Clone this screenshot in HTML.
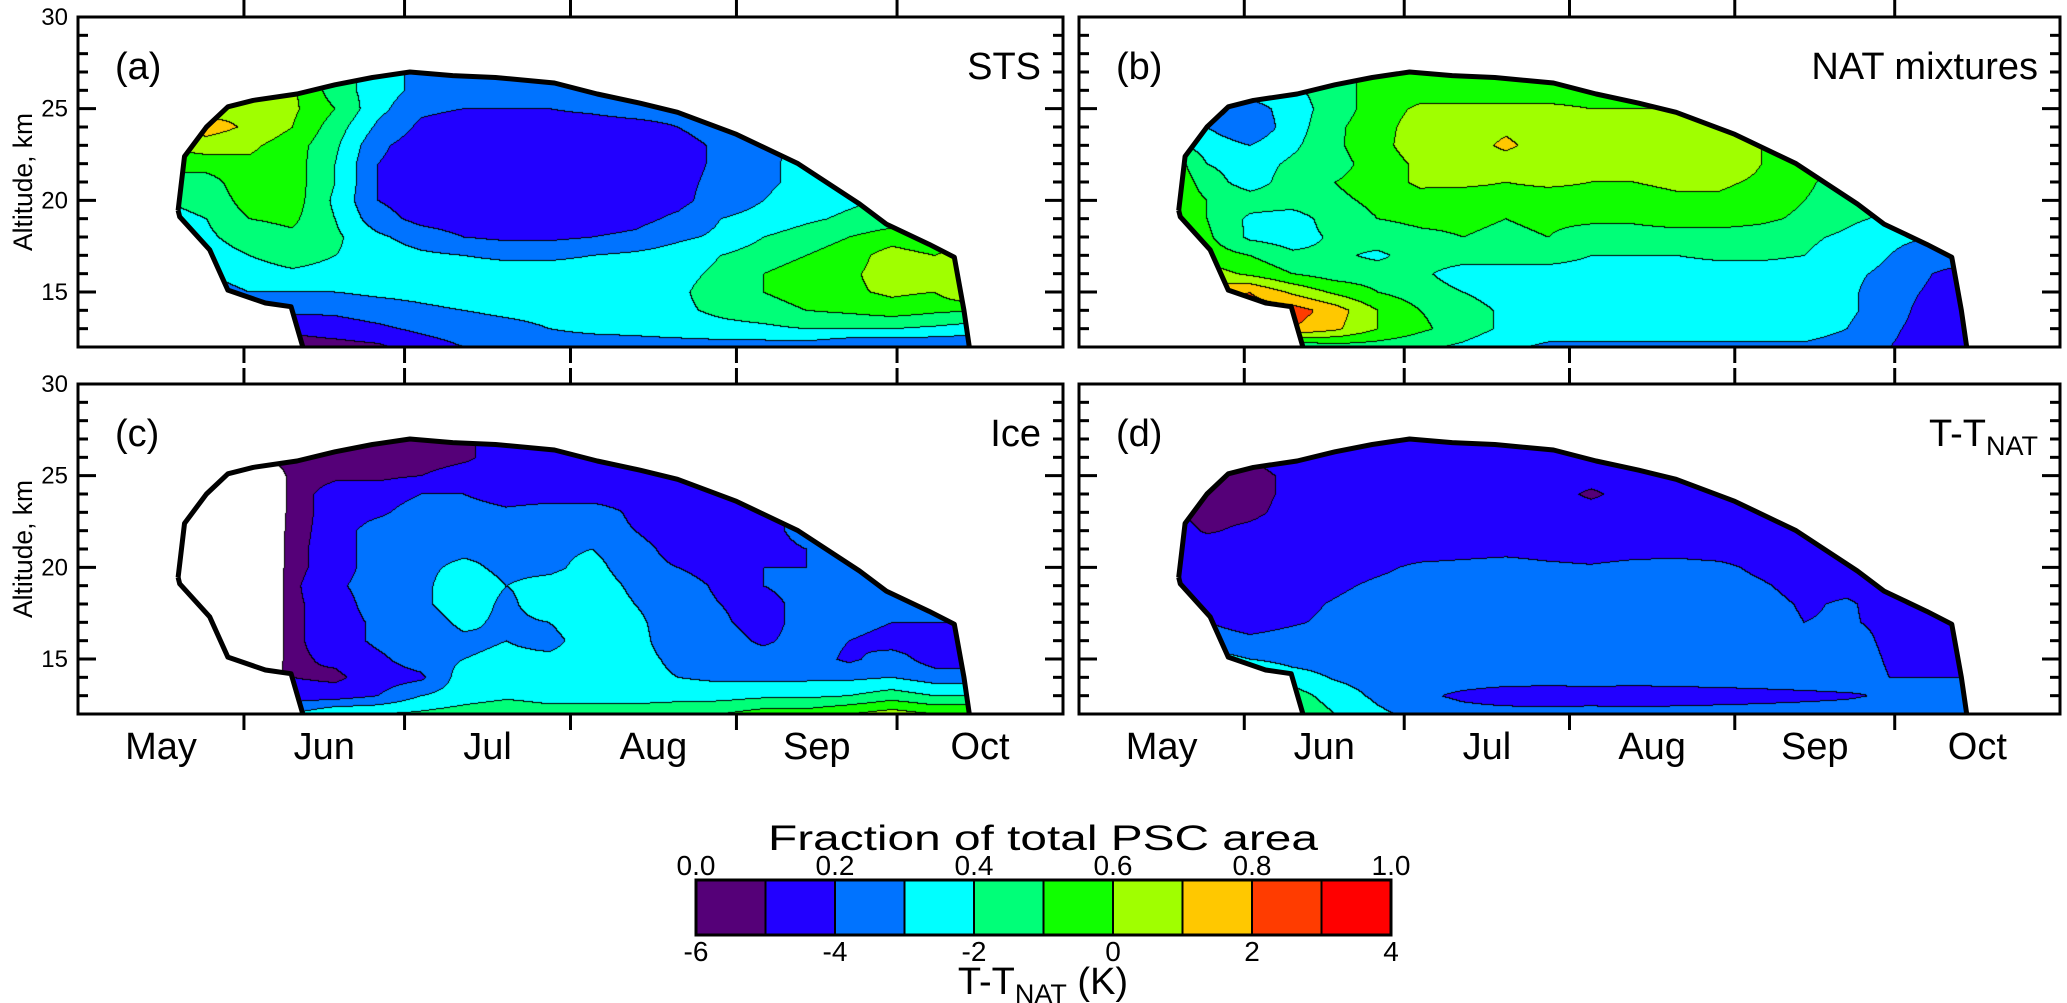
<!DOCTYPE html>
<html><head><meta charset="utf-8">
<style>
html,body{margin:0;padding:0;background:#fff;}
#wrap{position:relative;width:2067px;height:1003px;overflow:hidden;background:#fff;font-family:"Liberation Sans",Arial,sans-serif;}
canvas{position:absolute;}
svg{position:absolute;left:0;top:0;}
</style></head>
<body>
<div id="wrap">
<canvas id="cv-a"></canvas>
<canvas id="cv-b"></canvas>
<canvas id="cv-c"></canvas>
<canvas id="cv-d"></canvas>
<svg id="ov" width="2067" height="1003"></svg>
</div>
<script>
const _ = null;
// columns: days since May 1, step 8 (0..184); rows: altitude 27 km down to 12 km
const gridDays = [0,8,16,24,32,40,48,56,64,72,80,88,96,104,112,120,128,136,144,152,160,168,176,184];
const gridAlts = [27,26,25,24,23,22,21,20,19,18,17,16,15,14,13,12];

const stsValues = [
[_,_,_,_,_,_,_,_,_,_,_,_,_,_,_,_,_,_,_,_,_,_,_,_],
[_,_,_,.65,.65,.62,.45,.35,.27,.25,.25,.25,.25,.25,.25,.3,.3,_,_,_,_,_,_,_],
[_,_,_,.65,.68,.62,.5,.33,.22,.2,.2,.2,.22,.25,.25,.28,.3,.3,_,_,_,_,_,_],
[_,_,_,.75,.68,.6,.45,.28,.18,.15,.15,.15,.15,.16,.2,.25,.3,.3,_,_,_,_,_,_],
[_,_,.6,.65,.62,.55,.42,.22,.15,.15,.15,.15,.15,.15,.16,.22,.28,.32,.35,_,_,_,_,_],
[_,_,.55,.55,.58,.55,.4,.2,.15,.15,.15,.15,.15,.15,.16,.22,.28,.33,.35,.4,_,_,_,_],
[_,_,.45,.45,.58,.55,.4,.2,.15,.15,.15,.15,.15,.15,.17,.23,.28,.33,.37,.4,_,_,_,_],
[_,_,.4,.42,.55,.55,.38,.2,.15,.15,.15,.15,.15,.15,.17,.25,.3,.35,.38,.42,.45,_,_,_],
[_,_,.38,.4,.5,.52,.4,.24,.17,.15,.15,.15,.15,.17,.22,.3,.33,.38,.42,.45,.5,_,_,_],
[_,_,.35,.38,.45,.48,.42,.32,.25,.2,.18,.18,.2,.22,.28,.32,.4,.45,.5,.55,.5,.55,_,_],
[_,_,_,.35,.4,.45,.4,.36,.32,.3,.28,.28,.3,.32,.35,.4,.45,.5,.55,.65,.6,.7,_,_],
[_,_,_,.3,.35,.38,.36,.35,.35,.35,.35,.35,.35,.35,.37,.42,.5,.55,.58,.65,.62,.78,_,_],
[_,_,_,.25,.3,.3,.3,.32,.33,.35,.35,.35,.35,.35,.38,.45,.5,.55,.58,.62,.6,.75,_,_],
[_,_,_,_,.22,.22,.22,.25,.28,.3,.32,.33,.35,.35,.38,.42,.45,.5,.52,.55,.52,.5,_,_],
[_,_,_,_,.12,.12,.15,.18,.22,.25,.27,.3,.32,.33,.35,.37,.38,.4,.4,.4,.38,.35,_,_],
[_,_,_,_,.05,.05,.06,.08,.15,.2,.22,.25,.25,.25,.25,.25,.25,.25,.2,.2,.2,.2,_,_]
];
const natValues = [
[_,_,_,_,_,_,_,_,_,_,_,_,_,_,_,_,_,_,_,_,_,_,_,_],
[_,_,_,.35,.35,.38,.45,.55,.55,.55,.55,.55,.55,.55,.55,.55,.55,_,_,_,_,_,_,_],
[_,_,_,.35,.25,.35,.45,.55,.62,.62,.62,.62,.6,.6,.6,.62,.58,.55,_,_,_,_,_,_],
[_,_,.4,.3,.22,.35,.48,.56,.65,.65,.68,.65,.65,.62,.62,.65,.6,.55,_,_,_,_,_,_],
[_,_,.45,.35,.3,.38,.48,.57,.65,.65,.72,.65,.65,.62,.65,.7,.6,.55,.5,_,_,_,_,_],
[_,_,.6,.4,.35,.42,.46,.55,.62,.65,.65,.62,.62,.62,.65,.68,.6,.55,.5,.5,_,_,_,_],
[_,_,.62,.45,.35,.45,.5,.55,.62,.62,.6,.62,.6,.6,.62,.62,.58,.52,.45,.45,_,_,_,_],
[_,_,.6,.5,.45,.45,.48,.52,.56,.55,.56,.55,.56,.56,.58,.58,.55,.5,.45,.42,.4,_,_,_],
[_,_,.55,.5,.38,.35,.45,.5,.52,.52,.5,.52,.52,.52,.55,.55,.52,.48,.42,.38,.35,_,_,_],
[_,_,.55,.52,.38,.35,.42,.45,.48,.5,.48,.5,.45,.45,.45,.45,.45,.42,.38,.32,.3,_,_,_],
[_,_,_,.55,.5,.42,.42,.38,.45,.45,.45,.45,.4,.4,.4,.42,.42,.4,.35,.3,.25,_,_,_],
[_,_,_,.65,.58,.5,.45,.45,.42,.35,.35,.35,.35,.35,.35,.35,.35,.35,.32,.28,.2,.15,_,_],
[_,_,_,.75,.8,.68,.58,.5,.45,.4,.35,.35,.35,.35,.35,.35,.35,.35,.32,.25,.18,.15,_,_],
[_,_,_,_,.85,.85,.75,.6,.5,.45,.38,.35,.35,.35,.35,.35,.35,.35,.32,.25,.15,.15,_,_],
[_,_,_,_,.6,.8,.72,.6,.52,.45,.38,.35,.35,.35,.35,.35,.35,.35,.3,.22,.15,.15,_,_],
[_,_,_,_,.4,.4,.45,.45,.42,.38,.32,.28,.28,.28,.28,.28,.28,.28,.25,.2,.15,.15,_,_]
];
const iceValues = [
[_,_,_,_,_,_,_,_,_,_,_,_,_,_,_,_,_,_,_,_,_,_,_,_],
[_,_,_,_,_,.05,.05,.05,.05,.08,.15,.15,.15,.15,_,_,_,_,_,_,_,_,_,_],
[_,_,_,_,-.3,.05,.08,.08,.1,.15,.15,.15,.12,.15,.15,_,_,_,_,_,_,_,_,_],
[_,_,_,-.3,-.3,.05,.15,.15,.2,.2,.15,.15,.15,.15,.15,.15,_,_,_,_,_,_,_,_],
[_,_,-.3,-.3,-.3,.05,.15,.18,.25,.25,.22,.25,.25,.18,.15,.15,.2,_,_,_,_,_,_,_],
[_,_,-.3,-.3,-.3,.06,.15,.25,.25,.25,.25,.25,.25,.2,.12,.15,.18,.22,_,_,_,_,_,_],
[_,_,-.3,-.3,-.3,.07,.15,.25,.27,.28,.28,.28,.3,.25,.15,.15,.18,.2,.25,_,_,_,_,_],
[_,_,-.3,-.3,-.3,.07,.15,.25,.28,.32,.28,.28,.33,.25,.2,.15,.2,.2,.22,.2,_,_,_,_],
[_,_,-.3,-.3,-.3,.08,.18,.25,.28,.35,.3,.33,.35,.28,.25,.18,.2,.25,.22,.25,_,_,_,_],
[_,_,-.3,-.3,-.3,.08,.15,.25,.28,.35,.28,.35,.36,.3,.25,.2,.15,.25,.25,.25,.22,_,_,_],
[_,_,_,-.3,-.3,.08,.15,.22,.25,.32,.28,.3,.36,.32,.25,.22,.15,.25,.25,.2,.2,_,_,_],
[_,_,_,-.3,-.3,.08,.15,.22,.25,.28,.3,.27,.35,.33,.25,.25,.18,.25,.2,.15,.15,.15,_,_],
[_,_,_,-.3,-.3,.08,.12,.18,.25,.3,.32,.32,.35,.33,.28,.25,.25,.25,.18,.25,.15,.15,_,_],
[_,_,_,_,-.3,.1,.08,.15,.18,.35,.36,.35,.36,.33,.3,.28,.28,.28,.28,.3,.25,.25,_,_],
[_,_,_,_,-.3,.15,.15,.2,.3,.35,.38,.36,.36,.36,.36,.36,.38,.38,.4,.45,.4,.4,_,_],
[_,_,_,_,-.3,.3,.4,.4,.42,.45,.48,.45,.45,.45,.48,.5,.55,.55,.6,.65,.6,.6,_,_]
];
const tntValues = [
[_,_,_,_,_,_,_,_,_,_,_,_,_,_,_,_,_,_,_,_,_,_,_,_],
[_,_,_,-5,-5,-4.5,-4.5,-4.5,-4.5,-4.5,-4.5,-4.5,-4.5,-4.5,-4.5,_,_,_,_,_,_,_,_,_],
[_,_,_,-5.3,-5.3,-4.8,-4.5,-4.5,-4.5,-4.5,-4.5,-4.5,-4.5,-4.5,-4.5,-4.5,_,_,_,_,_,_,_,_],
[_,_,-5,-5.4,-5.3,-4.8,-4.5,-4.5,-4.5,-4.5,-4.5,-4.5,-5.2,-4.5,-4.5,-4.5,-4.5,_,_,_,_,_,_,_],
[_,_,-4.8,-5.3,-5.2,-4.7,-4.5,-4.5,-4.5,-4.5,-4.5,-4.5,-4.5,-4.5,-4.5,-4.5,-4.5,-4.5,_,_,_,_,_,_],
[_,_,-4.5,-5.1,-4.8,-4.5,-4.5,-4.5,-4.5,-4.5,-4.5,-4.5,-4.5,-4.5,-4.5,-4.5,-4.5,-4.5,-4.5,_,_,_,_,_],
[_,_,-3.8,-4.5,-4.5,-4.5,-4.5,-4.5,-4.5,-4.4,-4.3,-4.4,-4.5,-4.4,-4.3,-4.4,-4.5,-4.5,-4.5,-4.5,_,_,_,_],
[_,_,-3.8,-4.4,-4.5,-4.5,-4.5,-4.2,-3.8,-3.7,-3.6,-3.8,-3.9,-3.7,-3.7,-3.8,-4.2,-4.5,-4.5,-4.5,_,_,_,_],
[_,_,-4,-4.4,-4.5,-4.5,-4.2,-3.8,-3.6,-3.6,-3.6,-3.6,-3.6,-3.6,-3.6,-3.6,-3.9,-4.3,-4.2,-4.5,-4.5,_,_,_],
[_,_,-4,-4.3,-4.5,-4.3,-3.9,-3.5,-3.5,-3.5,-3.5,-3.5,-3.5,-3.5,-3.5,-3.5,-3.7,-4.1,-3.9,-4.3,-4.4,_,_,_],
[_,_,_,-4,-4.4,-4.1,-3.8,-3.5,-3.5,-3.5,-3.5,-3.5,-3.5,-3.5,-3.5,-3.5,-3.6,-4,-3.9,-4.2,-4.3,_,_,_],
[_,_,_,-3.5,-3.8,-3.6,-3.5,-3.5,-3.5,-3.5,-3.5,-3.5,-3.5,-3.5,-3.5,-3.5,-3.5,-3.7,-3.6,-4.2,-4.3,-4.3,_,_],
[_,_,_,-2.5,-3,-3.4,-3.5,-3.5,-3.5,-3.5,-3.5,-3.5,-3.5,-3.5,-3.5,-3.5,-3.5,-3.5,-3.5,-4.1,-4.2,-4.2,_,_],
[_,_,_,_,-1.5,-2.5,-3.1,-3.4,-3.5,-3.5,-3.5,-3.5,-3.5,-3.5,-3.5,-3.5,-3.5,-3.5,-3.5,-4,-4,-4,_,_],
[_,_,_,_,-1,-1.5,-2.5,-3.2,-3.8,-4.2,-4.5,-4.6,-4.5,-4.6,-4.5,-4.4,-4.3,-4.2,-4.1,-3.9,-3.9,-3.9,_,_],
[_,_,_,_,-.5,-1,-2,-2.8,-3.3,-3.6,-3.6,-3.6,-3.6,-3.6,-3.6,-3.6,-3.6,-3.6,-3.6,-3.5,-3.5,-3.5,_,_]
];
// PSC envelope (day, altitude km): top edge, right edge down to 12 km, then left edge back up
const envDay = [18.7,19.9,24,28,32.7,40.9,48,55,62,70,78,89,97,105,112,123,134.5,146,151,159,163.7,165.5,166.5,42,39.8,35,28,24.6,19];
const envAlt = [19.45,22.4,24,25.1,25.45,25.8,26.3,26.7,27,26.8,26.7,26.4,25.8,25.3,24.8,23.6,22,19.8,18.7,17.6,16.9,14,12,12,14.2,14.4,15.1,17.3,19.1];

const monthNames = ["May","Jun","Jul","Aug","Sep","Oct"];
const monthStart = [0,31,61,92,123,153];
const monthLen = [31,30,31,31,30,31];
const altTicks = [15,20,25,30];
const cbTopLabels = ["0.0","0.2","0.4","0.6","0.8","1.0"];
const cbBottomLabels = ["-6","-4","-2","0","2","4"];
const levelColors = [[85,0,120],[34,0,255],[0,115,255],[0,255,255],[0,255,120],[16,255,0],[160,255,0],[255,200,0],[255,60,0],[255,0,0]];

const DAYS = 184, ALT0 = 12, ALT1 = 30;
const panels = [
 {key:'a', x0:78, y0:17, w:985, h:330, grid:stsValues, vmin:0, step:0.1, label:'(a)', title:'STS', ylab:true, top:true},
 {key:'b', x0:1079, y0:17, w:981, h:330, grid:natValues, vmin:0, step:0.1, label:'(b)', title:'NAT mixtures', ylab:false, top:true},
 {key:'c', x0:78, y0:384, w:985, h:330, grid:iceValues, vmin:0, step:0.1, label:'(c)', title:'Ice', ylab:true, top:false},
 {key:'d', x0:1079, y0:384, w:981, h:330, grid:tntValues, vmin:-6, step:1, label:'(d)', title:'TNAT', ylab:false, top:false}
];

function fillGrid(g){
  const out = g.map(r=>r.slice());
  for(const r of out){
    const idx = []; r.forEach((v,i)=>{ if(v!==null) idx.push(i); });
    if(!idx.length) continue;
    for(let i=0;i<r.length;i++) if(r[i]===null){
      let best=idx[0]; for(const j of idx) if(Math.abs(j-i)<Math.abs(best-i)) best=j;
      r[i]=r[best];
    }
  }
  for(let k=0;k<out.length;k++) if(out[k].every(v=>v===null)){
    for(let d=1;d<out.length;d++){
      const a=out[k+d]||out[k-d];
      if(a && !a.every(v=>v===null)){ out[k]=a.slice(); break; }
    }
  }
  return out;
}

const NS = "http://www.w3.org/2000/svg";
const ov = document.getElementById('ov');
function el(tag, attrs, parent){
  const e = document.createElementNS(NS, tag);
  for(const k in attrs) e.setAttribute(k, attrs[k]);
  (parent||ov).appendChild(e); return e;
}

panels.forEach(p=>{
  const xs = d => p.x0 + d/DAYS*p.w;
  const ys = a => p.y0 + (ALT1-a)/(ALT1-ALT0)*p.h;
  const g = fillGrid(p.grid);
  const nr = g.length, nc = g[0].length;
  const off = document.createElement('canvas'); off.width=p.w; off.height=p.h;
  const octx = off.getContext('2d');
  const img = octx.createImageData(p.w, p.h);
  const lev = new Int8Array(p.w*p.h);
  for(let py=0;py<p.h;py++){
    const alt = ALT1 - py/p.h*(ALT1-ALT0);
    let fr = (gridAlts[0]-alt); if(fr<0) fr=0; if(fr>nr-1) fr=nr-1;
    const r0=Math.floor(fr), r1=Math.min(r0+1,nr-1), tr=fr-r0;
    for(let px=0;px<p.w;px++){
      const day = px/p.w*DAYS;
      let fc = day/(gridDays[1]-gridDays[0]); if(fc>nc-1) fc=nc-1;
      const c0=Math.floor(fc), c1=Math.min(c0+1,nc-1), tc=fc-c0;
      const v = (g[r0][c0]*(1-tc)+g[r0][c1]*tc)*(1-tr)+(g[r1][c0]*(1-tc)+g[r1][c1]*tc)*tr;
      let L = Math.floor((v-p.vmin)/p.step); if(L>9) L=9; if(v<p.vmin) L=-1;
      lev[py*p.w+px]=L;
    }
  }
  for(let py=0;py<p.h;py++) for(let px=0;px<p.w;px++){
    const i=py*p.w+px, L=lev[i];
    let c = L<0?[255,255,255]:levelColors[L];
    const edge = (px+1<p.w && lev[i+1]!==L) || (py+1<p.h && lev[i+p.w]!==L);
    if(edge) c=[0,0,0];
    img.data[i*4]=c[0]; img.data[i*4+1]=c[1]; img.data[i*4+2]=c[2]; img.data[i*4+3]=255;
  }
  octx.putImageData(img,0,0);
  const cv = document.getElementById('cv-'+p.key);
  cv.width=p.w; cv.height=p.h; cv.style.left=p.x0+'px'; cv.style.top=p.y0+'px';
  const ctx = cv.getContext('2d');
  ctx.save(); ctx.beginPath();
  envDay.forEach((d,i)=>{ const X=d/DAYS*p.w, Y=(ALT1-envAlt[i])/(ALT1-ALT0)*p.h; i?ctx.lineTo(X,Y):ctx.moveTo(X,Y); });
  ctx.closePath(); ctx.clip(); ctx.drawImage(off,0,0); ctx.restore();

  const topPts = envDay.slice(0,23).map((d,i)=>xs(d)+','+ys(envAlt[i])).join(' ');
  const env = el('polyline',{points: topPts, fill:'none', stroke:'#000','stroke-width':5,'stroke-linejoin':'round'});
  
  
  const leftPts = envDay.slice(23).map((d,i)=>xs(d)+','+ys(envAlt[i+23])).join(' ') + ' ' + xs(envDay[0])+','+ys(envAlt[0]);
  const env2 = el('polyline',{points: leftPts, fill:'none', stroke:'#000','stroke-width':5,'stroke-linejoin':'round'});
  
  

  const fr = el('rect',{x:p.x0,y:p.y0,width:p.w,height:p.h,fill:'none',stroke:'#000','stroke-width':3});
  
  

  for(let a=13;a<=29;a++){
    const major = a%5===0, len = major?18:10;
    const t1 = el('line',{x1:p.x0,x2:p.x0+len,y1:ys(a),y2:ys(a),stroke:'#000','stroke-width':3});
    
    
    const t2 = el('line',{x1:p.x0+p.w,x2:p.x0+p.w-len,y1:ys(a),y2:ys(a),stroke:'#000','stroke-width':3});
    
    
  }
  if(p.ylab){
    altTicks.forEach(a=>{
      const t = el('text',{x:p.x0-10,y:ys(a)+8,'text-anchor':'end','font-size':24,fill:'#000'});
      t.textContent = a;
      
      
    });
    const yl = el('text',{x:0,y:0,transform:`translate(32,${p.y0+p.h/2}) rotate(-90)`,'text-anchor':'middle','font-size':27,textLength:138,lengthAdjust:'spacingAndGlyphs',fill:'#000'});
    yl.textContent='Altitude, km';
    
    
  }
  monthStart.slice(1).forEach(d=>{
    const X = xs(d);
    const yt = p.y0, yb = p.y0+p.h;
    const t1 = el('line',{x1:X,x2:X,y1:yt,y2:p.top?0:yt-16,stroke:'#000','stroke-width':3});
    
    
    const t2 = el('line',{x1:X,x2:X,y1:yb,y2:yb+16,stroke:'#000','stroke-width':3});
    
    
  });
  if(!p.top){
    monthNames.forEach((m,i)=>{
      const t = el('text',{x:xs(monthStart[i]+monthLen[i]/2),y:p.y0+p.h+45,'text-anchor':'middle','font-size':38,fill:'#000'});
      t.textContent=m;
      
      
    });
  }
  const lt = el('text',{x:p.x0+37,y:p.y0+62,'font-size':38,fill:'#000'});
  lt.textContent = p.label;
  
  
  const tt = el('text',{x:p.x0+p.w-22,y:p.y0+62,'text-anchor':'end','font-size':38,fill:'#000'});
  if(p.title==='TNAT'){
    tt.appendChild(document.createTextNode('T-T'));
    const s = el('tspan',{'font-size':27,dy:9},tt); s.textContent='NAT';
  } else tt.textContent = p.title;
  
  
});

// colorbar
const cbX0=696, cbX1=1391, cbY=880, cbH=55;
const cbW=(cbX1-cbX0)/levelColors.length;
levelColors.forEach((c,i)=>{
  const r = el('rect',{x:cbX0+i*cbW,y:cbY,width:cbW,height:cbH,fill:`rgb(${c[0]},${c[1]},${c[2]})`,stroke:'#000','stroke-width':2});
  
  
});
const cbf = el('rect',{x:cbX0,y:cbY,width:cbX1-cbX0,height:cbH,fill:'none',stroke:'#000','stroke-width':3});


cbTopLabels.forEach((s,i)=>{
  const t = el('text',{x:cbX0+i*2*cbW,y:875,'text-anchor':'middle','font-size':28,fill:'#000'});
  t.textContent=s;
  
  
});
cbBottomLabels.forEach((s,i)=>{
  const t = el('text',{x:cbX0+i*2*cbW,y:961,'text-anchor':'middle','font-size':28,fill:'#000'});
  t.textContent=s;
  
  
});
const ct = el('text',{x:1043,y:850,'text-anchor':'middle','font-size':35,textLength:550,lengthAdjust:'spacingAndGlyphs',fill:'#000'});
ct.textContent='Fraction of  total PSC area';


const cb2 = el('text',{x:1043,y:994,'text-anchor':'middle','font-size':38,fill:'#000'});
cb2.appendChild(document.createTextNode('T-T'));
const sub = el('tspan',{'font-size':27,dy:9},cb2); sub.textContent='NAT';
const rest = el('tspan',{dy:-9},cb2); rest.textContent=' (K)';


</script>
</body></html>
